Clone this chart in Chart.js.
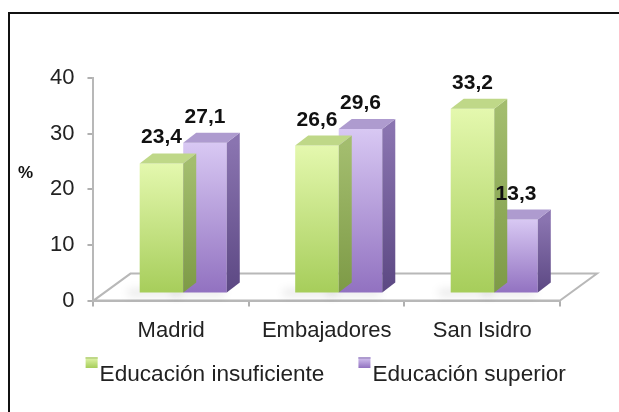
<!DOCTYPE html>
<html>
<head>
<meta charset="utf-8">
<script src="https://cdn.jsdelivr.net/npm/chart.js@4.4.0/dist/chart.umd.min.js"></script>
<style>
  body { margin: 0; background: #fff; }
  #wrap { position: relative; width: 619px; height: 412px; }
</style>
</head>
<body>
<div id="wrap"><canvas id="chart"></canvas></div>
<script>
// education level by district (%)

const categories = ['Madrid', 'Embajadores', 'San Isidro'];
const seriesNames = ['Educación insuficiente', 'Educación superior'];
const insuficiente = [23.4, 26.6, 33.2];
const superior = [27.1, 29.6, 13.3];
const yMax = 40;
const yStep = 10;

const FONT = '"Liberation Sans", Arial, sans-serif';

// bars sit a bit back on the floor, each bar has its own depth
const shift = { x: 12, y: -7 };
const depth = { x: 13, y: -10 };
const floorDepth = { x: 37, y: -27 };

const palette = [
  { light: '#e4f8ae', dark: '#a6cd5a', side: '#a3bd6e', sideDark: '#7d9a46', top: '#bfd888' },
  { light: '#d8c8f3', dark: '#9171c0', side: '#8a74b0', sideDark: '#5c4883', top: '#ae9bcf' }
];

function frontFill(i) {
  return (c) => {
    const chart = c.chart;
    if (!chart.chartArea || c.type !== 'data') return palette[i].dark;
    const y = chart.scales.y;
    const g = chart.ctx.createLinearGradient(0, y.getPixelForValue(c.raw), 0, y.getPixelForValue(0));
    g.addColorStop(0, palette[i].light);
    g.addColorStop(1, palette[i].dark);
    return g;
  };
}

function fmt(v) {
  return v.toFixed(1).replace('.', ',');
}

function barBox(bar) {
  const p = bar.getProps(['x', 'y', 'base', 'width'], true);
  return { left: p.x - p.width / 2, right: p.x + p.width / 2, top: p.y, base: p.base, x: p.x };
}

const bars3d = {
  id: 'bars3d',
  beforeDraw(chart) {
    const ctx = chart.ctx;
    ctx.save();
    ctx.fillStyle = '#fff';
    ctx.fillRect(0, 0, chart.width, chart.height);
    ctx.strokeStyle = '#111';
    ctx.lineWidth = 2;
    ctx.strokeRect(9, 13, chart.width + 20, chart.height + 20);
    ctx.restore();
  },
  beforeDatasetsDraw(chart) {
    const ctx = chart.ctx;
    const a = chart.chartArea;

    // floor
    ctx.save();
    ctx.beginPath();
    ctx.moveTo(a.left, a.bottom);
    ctx.lineTo(a.right, a.bottom);
    ctx.lineTo(a.right + floorDepth.x, a.bottom + floorDepth.y);
    ctx.lineTo(a.left + floorDepth.x, a.bottom + floorDepth.y);
    ctx.closePath();
    ctx.fillStyle = '#fff';
    ctx.fill();
    ctx.strokeStyle = '#b8b8b8';
    ctx.lineWidth = 2;
    ctx.stroke();
    ctx.restore();

    ctx.save();
    ctx.translate(shift.x, shift.y);

    // soft shadow at the foot of each bar
    ctx.save();
    ctx.filter = 'blur(4px)';
    ctx.fillStyle = 'rgba(0,0,0,0.10)';
    chart.data.datasets.forEach((ds, i) => {
      chart.getDatasetMeta(i).data.forEach(bar => {
        const b = barBox(bar);
        ctx.fillRect(b.left - 12, b.base - 3, b.right - b.left + 10, 6);
      });
    });
    ctx.restore();
  },
  afterDatasetDraw(chart, args) {
    const ctx = chart.ctx;
    const col = palette[args.index];
    args.meta.data.forEach(bar => {
      const b = barBox(bar);

      // side face
      const g = ctx.createLinearGradient(0, b.top, 0, b.base);
      g.addColorStop(0, col.side);
      g.addColorStop(1, col.sideDark);
      ctx.beginPath();
      ctx.moveTo(b.right, b.top);
      ctx.lineTo(b.right + depth.x, b.top + depth.y);
      ctx.lineTo(b.right + depth.x, b.base + depth.y);
      ctx.lineTo(b.right, b.base);
      ctx.closePath();
      ctx.fillStyle = g;
      ctx.fill();

      // top face
      ctx.beginPath();
      ctx.moveTo(b.left, b.top);
      ctx.lineTo(b.left + depth.x, b.top + depth.y);
      ctx.lineTo(b.right + depth.x, b.top + depth.y);
      ctx.lineTo(b.right, b.top);
      ctx.closePath();
      ctx.fillStyle = col.top;
      ctx.fill();
    });
  },
  afterDatasetsDraw(chart) {
    const ctx = chart.ctx;
    ctx.font = 'bold 21px ' + FONT;
    ctx.fillStyle = '#111';
    ctx.textAlign = 'center';
    ctx.textBaseline = 'alphabetic';
    chart.data.datasets.forEach((ds, i) => {
      chart.getDatasetMeta(i).data.forEach((bar, j) => {
        const b = barBox(bar);
        ctx.fillText(fmt(ds.data[j]), b.x, b.top - 20);
      });
    });
    ctx.restore();
  },
  afterDraw(chart) {
    const ctx = chart.ctx;
    const a = chart.chartArea;
    ctx.save();

    // axis name
    ctx.font = 'bold 17px ' + FONT;
    ctx.fillStyle = '#111';
    ctx.textAlign = 'left';
    ctx.textBaseline = 'alphabetic';
    ctx.fillText('%', 18, 178);

    // legend
    ctx.font = '22.6px ' + FONT;
    const box = 12, gap = 2, itemGap = 34;
    const widths = seriesNames.map(n => ctx.measureText(n).width);
    const total = widths.reduce((s, w) => s + box + gap + w, 0) + itemGap * (seriesNames.length - 1);
    let x = (a.left + a.right) / 2 - 1 - total / 2;
    const base = 381;
    seriesNames.forEach((name, i) => {
      const g = ctx.createLinearGradient(0, base - 24, 0, base - 13);
      g.addColorStop(0, palette[i].light);
      g.addColorStop(1, palette[i].dark);
      ctx.fillStyle = g;
      ctx.fillRect(x, base - 24, box, 11);
      ctx.fillStyle = palette[i].top;
      ctx.fillRect(x, base - 24, box, 2);
      ctx.fillStyle = '#222';
      ctx.fillText(name, x + box + gap, base);
      x += box + gap + widths[i] + itemGap;
    });
    ctx.restore();
  }
};

new Chart(document.getElementById('chart'), {
  type: 'bar',
  data: {
    labels: categories,
    datasets: [
      { label: seriesNames[0], data: insuficiente, backgroundColor: frontFill(0) },
      { label: seriesNames[1], data: superior, backgroundColor: frontFill(1) }
    ]
  },
  options: {
    responsive: true,
    maintainAspectRatio: false,
    animation: false,
    events: [],
    categoryPercentage: 0.56,
    barPercentage: 1,
    layout: { padding: { left: 37, right: 59, top: 78, bottom: 57 } },
    plugins: {
      legend: { display: false },
      tooltip: { enabled: false }
    },
    scales: {
      x: {
        grid: { drawOnChartArea: false, tickLength: 6, color: '#b0b0b0', lineWidth: 2 },
        border: { color: '#b8b8b8', width: 2 },
        ticks: { color: '#222', padding: 11, font: { family: FONT, size: 22 } }
      },
      y: {
        min: 0,
        max: yMax,
        grid: { drawOnChartArea: false, tickLength: 6, color: '#b0b0b0', lineWidth: 2 },
        border: { color: '#b8b8b8', width: 2 },
        ticks: { stepSize: yStep, color: '#222', padding: 13, font: { family: FONT, size: 22 } }
      }
    }
  },
  plugins: [bars3d]
});
</script>
</body>
</html>
